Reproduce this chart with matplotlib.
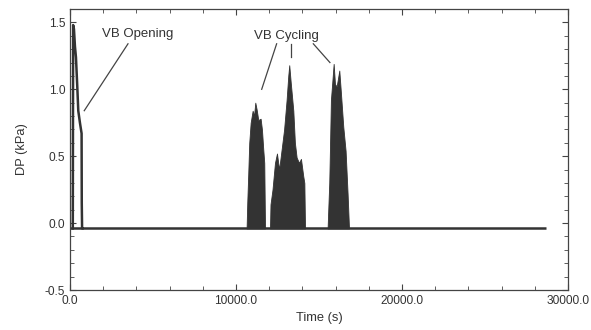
import numpy as np
import matplotlib.pyplot as plt
from matplotlib.ticker import MultipleLocator, FormatStrFormatter

plt.rcParams['font.family'] = ['Liberation Sans', 'DejaVu Sans']

# baseline (kPa) over the whole run
base_t = [0, 28700]
base_v = [-0.04, -0.04]

# valve opening transient
open_t = [170, 190, 240, 300, 360, 440, 500, 600, 700, 710, 730, 760]
open_v = [-0.04, 1.48, 1.45, 1.32, 1.24, 1.02, 0.84, 0.75, 0.67, 0.15, -0.04, -0.04]

# envelopes of the three cycling bursts
b1_t = [10640, 10680, 10740, 10800, 10885, 11005, 11085, 11165, 11245, 11345, 11485, 11565, 11645, 11705, 11750]
b1_v = [-0.04, 0.15, 0.37, 0.60, 0.75, 0.84, 0.80, 0.90, 0.85, 0.77, 0.78, 0.70, 0.55, 0.45, -0.04]

b2_t = [12050, 12080, 12200, 12350, 12470, 12600, 12750, 12900, 13050, 13150, 13210, 13300, 13455,
        13550, 13655, 13800, 13915, 14055, 14120, 14160]
b2_v = [-0.04, 0.14, 0.25, 0.45, 0.52, 0.40, 0.55, 0.70, 0.92, 1.10, 1.18, 1.05, 0.84,
        0.60, 0.49, 0.45, 0.48, 0.35, 0.30, -0.04]

b3_t = [15520, 15560, 15620, 15660, 15720, 15800, 15885, 15965, 16065, 16225, 16325, 16465, 16605, 16725, 16810]
b3_v = [-0.04, 0.10, 0.30, 0.54, 0.92, 1.05, 1.19, 1.04, 1.02, 1.14, 0.97, 0.72, 0.54, 0.22, -0.04]

fig = plt.figure(figsize=(5.91, 3.30), dpi=100)
ax = fig.add_axes([0.1184, 0.1212, 0.8426, 0.8515])

dark = '#333333'
ax.plot(base_t, base_v, color=dark, lw=1.8, solid_capstyle='butt')
ax.plot(open_t, open_v, color=dark, lw=1.8)
for bt, bv in [(b1_t, b1_v), (b2_t, b2_v), (b3_t, b3_v)]:
    ax.fill_between(bt, -0.04, bv, color=dark, lw=0.6, edgecolor=dark)

ax.set_xlim(0, 30000)
ax.set_ylim(-0.5, 1.6)
ax.xaxis.set_major_locator(MultipleLocator(10000))
ax.xaxis.set_minor_locator(MultipleLocator(2000))
ax.yaxis.set_major_locator(MultipleLocator(0.5))
ax.yaxis.set_minor_locator(MultipleLocator(0.1))
ax.xaxis.set_major_formatter(FormatStrFormatter('%.1f'))
ax.yaxis.set_major_formatter(FormatStrFormatter('%.1f'))
ax.tick_params(which='both', direction='in', top=True, right=True, color='#444444',
               labelsize=8.6, labelcolor='#333333')
ax.tick_params(which='major', length=4)
ax.tick_params(which='minor', length=3)
for s in ax.spines.values():
    s.set_color('#444444')
    s.set_linewidth(0.9)

ax.set_xlabel('Time (s)', fontsize=9.3, color='#333333', labelpad=4)
ax.set_ylabel('DP (kPa)', fontsize=9.3, color='#333333', labelpad=12)

ax.text(1930, 1.41, 'VB Opening', fontsize=9.5, color='#333333', va='center', ha='left')
ax.plot([3495, 860], [1.34, 0.84], color='#444444', lw=0.9)

ax.text(13070, 1.40, 'VB Cycling', fontsize=9.5, color='#333333', va='center', ha='center')
ax.plot([12450, 11550], [1.34, 1.00], color='#444444', lw=0.9)
ax.plot([13290, 13290], [1.34, 1.24], color='#444444', lw=0.9)
ax.plot([14660, 15660], [1.34, 1.20], color='#444444', lw=0.9)

fig.savefig('out.png', dpi=100)
